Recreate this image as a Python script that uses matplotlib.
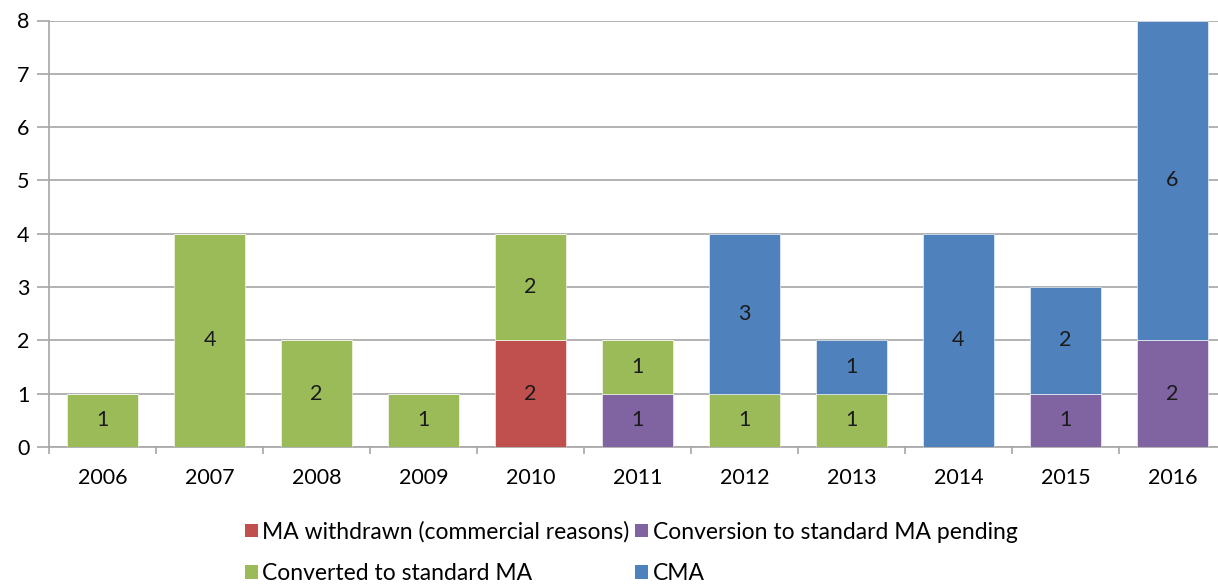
import matplotlib.pyplot as plt
import numpy as np
from matplotlib.patches import Patch

years = ["2006", "2007", "2008", "2009", "2010", "2011",
         "2012", "2013", "2014", "2015", "2016"]
withdrawn = [0, 0, 0, 0, 2, 0, 0, 0, 0, 0, 0]
pending = [0, 0, 0, 0, 0, 1, 0, 0, 0, 1, 2]
converted = [1, 4, 2, 1, 2, 1, 1, 1, 0, 0, 0]
cma = [0, 0, 0, 0, 0, 0, 3, 1, 4, 2, 6]

series = [
    ("MA withdrawn (commercial reasons)", withdrawn, "#C0504D"),
    ("Conversion to standard MA pending", pending, "#8064A2"),
    ("Converted to standard MA", converted, "#9BBB59"),
    ("CMA", cma, "#4F81BD"),
]

plt.rcParams["font.family"] = ["Lato", "DejaVu Sans"]
fs = 15.5

fig = plt.figure(figsize=(12.18, 5.86), dpi=100)
W, H = 1218, 586
left, right, top, bottom = 49, 1226, 20.5, 447
ax = fig.add_axes([left / W, 1 - bottom / H, (right - left) / W, (bottom - top) / H])

x = np.arange(len(years))
base = np.zeros(len(years))
for name, vals, color in series:
    vals = np.array(vals, dtype=float)
    ax.bar(x, vals, bottom=base, width=0.66, color=color,
           edgecolor="#FFFFFF", linewidth=0.4, zorder=3)
    for xi, v, b in zip(x, vals, base):
        if v > 0:
            ax.text(xi, b + v / 2, f"{int(v)}", ha="center", va="center",
                    fontsize=fs, color="#1a1a1a", zorder=4)
    base += vals

ax.set_xlim(-0.5, len(years) - 0.5)
ax.set_ylim(0, 8)
ax.set_yticks(range(9))
ax.yaxis.grid(True, color="#A6A6A6", linewidth=1.2, zorder=0)
ax.set_axisbelow(True)

ax.set_xticks(x)
ax.set_xticklabels(years)
ax.set_xticks(np.arange(-0.5, len(years)), minor=True)
ax.tick_params(axis="x", which="major", length=0, pad=15, labelsize=fs)
ax.tick_params(axis="x", which="minor", length=5, width=1.2, color="#A6A6A6")
ax.tick_params(axis="y", length=9, width=1.2, color="#A6A6A6", pad=5, labelsize=fs)

for s in ["top", "right"]:
    ax.spines[s].set_visible(False)
for s in ["left", "bottom"]:
    ax.spines[s].set_color("#A6A6A6")
    ax.spines[s].set_linewidth(1.2)

handles = {name: Patch(facecolor=color) for name, _, color in series}
order = ["MA withdrawn (commercial reasons)", "Converted to standard MA",
         "Conversion to standard MA pending", "CMA"]
fig.legend([handles[n] for n in order], order, ncol=2,
           loc="upper left", bbox_to_anchor=(236 / W, 1 - 512 / H),
           frameon=False, fontsize=16.5, handlelength=0.55, handleheight=0.55,
           handletextpad=0.2, columnspacing=0.25, labelspacing=0.9,
           borderaxespad=0)

fig.savefig("out.png", dpi=100)
